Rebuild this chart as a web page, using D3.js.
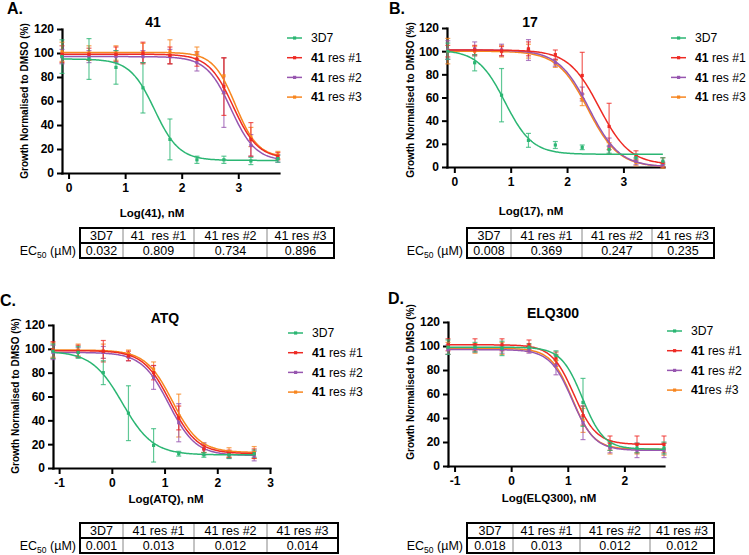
<!DOCTYPE html>
<html><head><meta charset="utf-8">
<script src="https://cdn.jsdelivr.net/npm/d3@7"></script>
<style>
body{margin:0;background:#fff}
svg{display:block}
text{font-family:Arial,"Liberation Sans",sans-serif}
</style>
</head><body><svg id="c" width="749" height="555"></svg>
<script>
// ---------------- DATA ----------------
const seriesNames = ["3D7", "41 res #1", "41 res #2", "41 res #3"];
const yTicks = [0, 20, 40, 60, 80, 100, 120];
const xTicksA = [0, 1, 2, 3];
const xTicksB = [0, 1, 2, 3];
const xTicksC = [-1, 0, 1, 2, 3];
const xTicksD = [-1, 0, 1, 2];

// log10 dose (nM), ascending
const dosesAB = [-0.116, 0.361, 0.838, 1.315, 1.792, 2.269, 2.746, 3.223, 3.7];
const dosesCD = [-1.116, -0.639, -0.162, 0.315, 0.792, 1.269, 1.746, 2.223, 2.7];

// Panel A (41): means / error half-widths per series [3D7, res#1, res#2, res#3]
const meanA = [
  [97, 95, 88, 71, 28, 11, 11, 10, 12],
  [99, 99, 99, 100, 98, 95, 72, 28, 14],
  [97, 97, 97, 97, 97, 92, 67, 23, 12],
  [101, 100, 100, 100, 101, 100, 81, 30, 15]
];
const errA = [
  [14, 17, 14, 21, 17, 3, 3, 3, 3],
  [7, 5, 6, 9, 7, 6, 24, 14, 3],
  [6, 5, 5, 5, 6, 7, 29, 9, 3],
  [8, 6, 6, 8, 10, 5, 15, 8, 3]
];
// fit params [top, bottom, logEC50, hill]
const fitA = [[95, 10.5, 1.52, 2.0], [99, 12, 2.91, 2.0], [97, 10, 2.87, 2.0], [100.5, 13, 2.95, 2.2]];
const ec50A = ["0.032", "0.809", "0.734", "0.896"];

// Panel B (17)
const meanB = [
  [100, 90, 62, 23, 19, 17, 15, 8, 5],
  [100, 101, 100, 102, 97, 79, 35, 10, 4],
  [101, 102, 101, 101, 90, 63, 18, 5, 2],
  [100, 100, 100, 100, 89, 58, 16, 4, 1]
];
const errB = [
  [7, 7, 23, 6, 3, 2, 3, 3, 3],
  [5, 4, 4, 6, 4, 20, 20, 4, 4],
  [8, 6, 5, 9, 3, 6, 7, 3, 2],
  [11, 4, 5, 6, 3, 5, 5, 3, 2]
];
const fitB = [[101, 11, 0.9, 1.8], [101, 2, 2.57, 1.6], [101, 0, 2.39, 1.6], [100, 0, 2.37, 1.6]];
const ec50B = ["0.008", "0.369", "0.247", "0.235"];

// Panel C (ATQ)
const meanC = [
  [98, 97, 80, 46, 19, 12, 11, 11, 12],
  [99, 98, 98, 94, 80, 42, 16, 12, 12],
  [97, 97, 97, 93, 76, 38, 16, 11, 10],
  [99, 99, 98, 96, 83, 44, 17, 13, 13]
];
const errC = [
  [6, 5, 10, 23, 14, 2, 2, 3, 3],
  [7, 5, 9, 4, 6, 10, 3, 3, 4],
  [6, 4, 5, 3, 10, 16, 5, 3, 4],
  [6, 5, 6, 3, 6, 18, 4, 4, 5]
];
const fitC = [[98, 11, 0.2, 1.5], [98.5, 12, 1.11, 1.7], [97, 10.5, 1.08, 1.7], [99, 13, 1.15, 1.7]];
const ec50C = ["0.001", "0.013", "0.012", "0.014"];

// Panel D (ELQ300)
const meanD = [
  [99, 99, 98, 99, 92, 53, 17, 15, 15],
  [101, 101, 101, 101, 90, 42, 19, 18, 18],
  [97, 98, 97, 97, 84, 36, 15, 13, 13],
  [98, 98, 98, 98, 88, 38, 15, 14, 14]
];
const errD = [
  [6, 4, 6, 3, 4, 20, 4, 4, 5],
  [5, 5, 5, 4, 5, 8, 6, 7, 7],
  [4, 3, 3, 3, 8, 14, 4, 6, 6],
  [5, 4, 5, 3, 5, 10, 5, 4, 5]
];
const fitD = [[99, 14, 1.26, 2.3], [101, 18, 1.11, 2.2], [97, 13, 1.08, 2.2], [98, 14, 1.08, 2.3]];
const ec50D = ["0.018", "0.013", "0.012", "0.012"];

const tableHeadA = ["3D7", "41  res #1", "41 res #2", "41 res #3"];
const tableHead = ["3D7", "41 res #1", "41 res #2", "41 res #3"];
const legendBold = ["", "41", "41", "41"];
const legendRest = ["3D7", " res #1", " res #2", " res #3"];
const legendRestD = ["3D7", " res #1", " res #2", "res #3"];

// ---------------- STYLE ----------------
const colors = ["#2bb673", "#ee2a24", "#9756b0", "#f7861f"];
const svg = d3.select("#c");

function fourPL(p, xv) {
  const [top, bottom, ec, hill] = p;
  return bottom + (top - bottom) / (1 + Math.pow(10, (xv - ec) * hill));
}

function drawPanel(p) {
  const g = svg.append("g");
  const x = d3.scaleLinear().domain(p.xDomain).range([p.x0, p.x1]);
  const y = d3.scaleLinear().domain([0, 120]).range([p.yb, p.yt]);

  // axes
  const ya = g.append("g").attr("transform", `translate(${p.x0},0)`)
    .call(d3.axisLeft(y).tickValues(yTicks).tickFormat(d3.format("d")).tickSize(5).tickSizeOuter(0).tickPadding(3));
  const xa = g.append("g").attr("transform", `translate(0,${p.yb})`)
    .call(d3.axisBottom(x).tickValues(p.xTicks).tickFormat(d3.format("d")).tickSize(6).tickSizeOuter(0).tickPadding(4));
  [ya, xa].forEach(a => {
    a.select(".domain").attr("stroke", "#000").attr("stroke-width", 2.2).attr("stroke-linecap", "square");
    a.selectAll(".tick line").attr("stroke", "#000").attr("stroke-width", 2);
    a.selectAll(".tick text").attr("font-size", 12).attr("font-weight", "bold").attr("fill", "#000")
      .style("font-family", "Arial, 'Liberation Sans', sans-serif");
  });
  xa.selectAll(".tick text").text(d => d < 0 ? "-" + Math.abs(d) : d);

  const doses = p.doses;
  const order = [3, 2, 1, 0];
  order.forEach(i => {
    const c = colors[i];
    // error bars
    const eg = g.append("g").attr("stroke", c).attr("stroke-width", 1.2).attr("stroke-opacity", 0.75);
    doses.forEach((d, k) => {
      const m = p.mean[i][k], e = p.err[i][k];
      const cx = x(d);
      eg.append("line").attr("x1", cx).attr("x2", cx).attr("y1", y(m - e)).attr("y2", y(m + e));
      eg.append("line").attr("x1", cx - 2.5).attr("x2", cx + 2.5).attr("y1", y(m - e)).attr("y2", y(m - e));
      eg.append("line").attr("x1", cx - 2.5).attr("x2", cx + 2.5).attr("y1", y(m + e)).attr("y2", y(m + e));
    });
  });
  order.forEach(i => {
    const c = colors[i];
    const xs = d3.range(0, 201).map(t => doses[0] + (doses[doses.length - 1] - doses[0]) * t / 200);
    g.append("path").datum(xs)
      .attr("fill", "none").attr("stroke", c).attr("stroke-width", 1.5)
      .attr("d", d3.line().x(v => x(v)).y(v => y(fourPL(p.fit[i], v))));
    g.append("g").selectAll("rect").data(doses).join("rect")
      .attr("x", (d) => x(d) - 1.6).attr("y", (d, k) => y(p.mean[i][k]) - 1.6)
      .attr("width", 3.2).attr("height", 3.2).attr("fill", c);
  });

  // letter, title, axis titles
  g.append("text").attr("x", p.letter[1]).attr("y", p.letter[2]).attr("font-size", 16)
    .attr("font-weight", "bold").text(p.letter[0]);
  g.append("text").attr("x", p.title[1]).attr("y", p.title[2]).attr("font-size", 14)
    .attr("font-weight", "bold").attr("text-anchor", "middle").text(p.title[0]);
  g.append("text").attr("x", p.xlab[1]).attr("y", p.xlab[2]).attr("font-size", 11.5)
    .attr("font-weight", "bold").attr("text-anchor", "middle").text(p.xlab[0]);
  g.append("text").attr("transform", `translate(${p.ylab[0]},${p.ylab[1]}) rotate(-90)`)
    .attr("font-size", 10).attr("font-weight", "bold").attr("text-anchor", "middle")
    .text("Growth Normalised to DMSO (%)");

  // legend
  const lg = g.append("g").attr("transform", `translate(${p.leg[0]},${p.leg[1]})`);
  seriesNames.forEach((s, i) => {
    const row = lg.append("g").attr("transform", `translate(0,${i * 19.7})`);
    row.append("line").attr("x1", 0).attr("x2", 15).attr("y1", 0).attr("y2", 0)
      .attr("stroke", colors[i]).attr("stroke-width", 1.5);
    row.append("rect").attr("x", 6).attr("y", -1.6).attr("width", 3.2).attr("height", 3.2).attr("fill", colors[i]);
    const t = row.append("text").attr("x", 24).attr("y", 4.3).attr("font-size", 12.2);
    if (legendBold[i]) t.append("tspan").attr("font-weight", "bold").text(legendBold[i]);
    t.append("tspan").text(p.legendRest[i]);
  });

  // EC50 table
  const tb = p.table;
  const tg = g.append("g");
  const heads = p.tableHead;
  const rowH = (tb.y1 - tb.y0) / 2;
  const cols = [tb.x0].concat(tb.cols).concat([tb.x1]);
  for (let j = 0; j < 4; j++) {
    const cx = (cols[j] + cols[j + 1]) / 2;
    tg.append("text").attr("x", cx).attr("y", tb.y0 + rowH / 2 + 4.3).attr("font-size", 12.5)
      .attr("text-anchor", "middle").style("white-space", "pre").text(heads[j]);
    tg.append("text").attr("x", cx).attr("y", tb.y0 + rowH * 1.5 + 4.3).attr("font-size", 12.5)
      .attr("text-anchor", "middle").text(p.ec50[j]);
  }
  tb.cols.forEach(cx => {
    tg.append("line").attr("x1", cx).attr("x2", cx).attr("y1", tb.y0).attr("y2", tb.y1)
      .attr("stroke", "#888").attr("stroke-width", 1);
  });
  tg.append("line").attr("x1", tb.x0).attr("x2", tb.x1).attr("y1", tb.y0 + rowH).attr("y2", tb.y0 + rowH)
    .attr("stroke", "#000").attr("stroke-width", 2);
  tg.append("rect").attr("x", tb.x0).attr("y", tb.y0).attr("width", tb.x1 - tb.x0).attr("height", tb.y1 - tb.y0)
    .attr("fill", "none").attr("stroke", "#000").attr("stroke-width", 2);
  const lab = tg.append("text").attr("x", tb.x0 - 4).attr("y", tb.y0 + rowH * 1.5 + 4.3)
    .attr("font-size", 12.5).attr("text-anchor", "end");
  lab.append("tspan").text("EC");
  lab.append("tspan").attr("font-size", 8.5).attr("dy", 3).text("50");
  lab.append("tspan").attr("dy", -3).text(" (\u00b5M)");
}

drawPanel({
  doses: dosesAB, mean: meanA, err: errA, fit: fitA, ec50: ec50A, tableHead: tableHeadA,
  xDomain: [-0.116, 3.72], x0: 62, x1: 279, yb: 173, yt: 29, xTicks: xTicksA,
  letter: ["A.", 7, 14], title: ["41", 153, 27], xlab: ["Log(41), nM", 152, 217], ylab: [28, 101],
  leg: [287, 38], legendRest: legendRest,
  table: { x0: 80, x1: 334, y0: 228, y1: 258, cols: [123, 194, 267] }
});
drawPanel({
  doses: dosesAB, mean: meanB, err: errB, fit: fitB, ec50: ec50B, tableHead: tableHead,
  xDomain: [-0.13, 3.72], x0: 447, x1: 664, yb: 167, yt: 28, xTicks: xTicksB,
  letter: ["B.", 389, 14], title: ["17", 530, 27], xlab: ["Log(17), nM", 531, 215], ylab: [414, 100],
  leg: [671, 38], legendRest: legendRest,
  table: { x0: 467, x1: 714, y0: 228, y1: 258, cols: [511, 582, 652] }
});
drawPanel({
  doses: dosesCD, mean: meanC, err: errC, fit: fitC, ec50: ec50C, tableHead: tableHead,
  xDomain: [-1.116, 3.0], x0: 53, x1: 270, yb: 468, yt: 325, xTicks: xTicksC,
  letter: ["C.", 0, 306], title: ["ATQ", 165, 323], xlab: ["Log(ATQ), nM", 166, 503], ylab: [19, 396],
  leg: [288, 333], legendRest: legendRest,
  table: { x0: 80, x1: 338, y0: 523, y1: 553, cols: [123, 194, 267] }
});
drawPanel({
  doses: dosesCD, mean: meanD, err: errD, fit: fitD, ec50: ec50D, tableHead: tableHead,
  xDomain: [-1.116, 2.7], x0: 448, x1: 664, yb: 466, yt: 322, xTicks: xTicksD,
  letter: ["D.", 388, 304], title: ["ELQ300", 553, 318], xlab: ["Log(ELQ300), nM", 549, 502], ylab: [414, 382],
  leg: [667, 331], legendRest: legendRestD,
  table: { x0: 467, x1: 714, y0: 523, y1: 553, cols: [513, 580, 650] }
});
</script>
</body></html>
